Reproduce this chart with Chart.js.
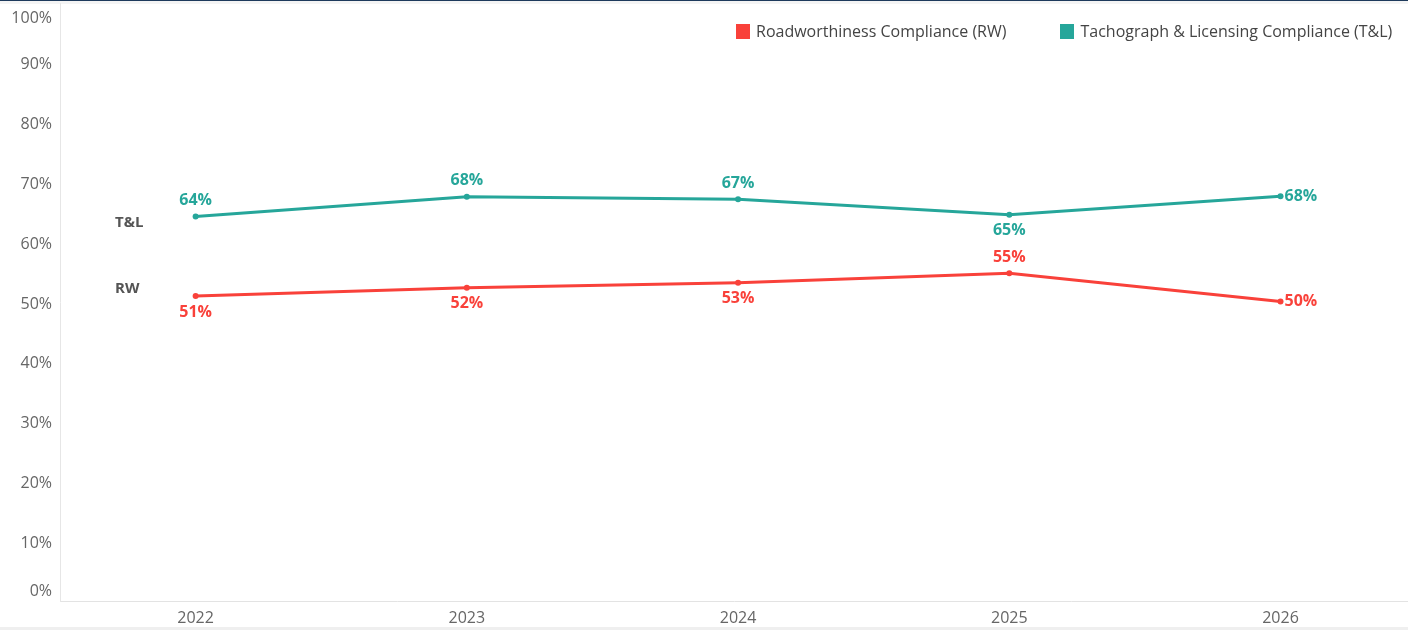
<!DOCTYPE html>
<html>
<head>
<meta charset="utf-8">
<script src="https://cdn.jsdelivr.net/npm/chart.js@4/dist/chart.umd.min.js"></script>
<style>
  html, body { margin: 0; padding: 0; background: #fff; width: 1408px; height: 630px; overflow: hidden; }
  #topline { position: absolute; left: 0; top: 0; width: 1408px; height: 1px; background: #1e3a5c; }
  #topband { position: absolute; left: 0; top: 1px; width: 1408px; height: 3px; background: #f4f4f4; }
  #bottomband { position: absolute; left: 0; top: 627px; width: 1408px; height: 3px; background: #efefef; }
  #wrap { position: absolute; left: 0; top: 3px; width: 1408px; height: 624px; }
  #legend { position: absolute; top: 20px; left: 736px; font-family: "Open Sans", sans-serif; font-size: 16px; color: #444; display: flex; align-items: center; }
  .item { display: flex; align-items: center; }
  .sw { width: 14px; height: 15px; margin-right: 6px; }
</style>
</head>
<body>
<div id="topline"></div>
<div id="topband"></div>
<div id="bottomband"></div>
<div id="wrap"><canvas id="c"></canvas></div>
<div id="legend">
  <div class="item"><div class="sw" style="background:#f9413a"></div><span>Roadworthiness Compliance (RW)</span></div>
  <div class="item" style="margin-left:54px"><div class="sw" style="background:#26a69a"></div><span>Tachograph &amp; Licensing Compliance (T&amp;L)</span></div>
</div>
<script>
// ---- data ----
const years = [2022, 2023, 2024, 2025, 2026];
const rwValues = [51.0, 52.4, 53.2, 54.8, 50.1];
const tlValues = [64.3, 67.6, 67.2, 64.6, 67.7];
const yTicks = [0, 10, 20, 30, 40, 50, 60, 70, 80, 90, 100];
const seriesNames = ['Roadworthiness Compliance (RW)', 'Tachograph & Licensing Compliance (T&L)'];
const shortNames = ['RW', 'T&L'];

// ---- styles ----
const RED = '#f9413a';
const TEAL = '#26a69a';
const rwLabelPos = ['below', 'below', 'below', 'above', 'right'];
const tlLabelPos = ['above', 'above', 'above', 'below', 'right'];
const FONT = '"Open Sans", sans-serif';

const dataLabels = {
  id: 'dataLabels',
  afterDatasetsDraw(chart) {
    const ctx = chart.ctx;
    ctx.save();
    chart.data.datasets.forEach((ds, di) => {
      const meta = chart.getDatasetMeta(di);
      const pos = ds.labelPos;
      ctx.font = 'bold 16px ' + FONT;
      meta.data.forEach((pt, i) => {
        const txt = Math.round(ds.data[i].y) + '%';
        ctx.fillStyle = ds.borderColor;
        ctx.textBaseline = 'middle';
        if (pos[i] === 'above') { ctx.textAlign = 'center'; ctx.fillText(txt, pt.x, pt.y - 16); }
        else if (pos[i] === 'below') { ctx.textAlign = 'center'; ctx.fillText(txt, pt.x, pt.y + 16); }
        else { ctx.textAlign = 'left'; ctx.fillText(txt, pt.x + 4, pt.y); }
      });
      // series short name on the left
      const first = meta.data[0];
      ctx.fillStyle = '#555';
      ctx.font = 'bold 15px ' + FONT;
      ctx.textAlign = 'left';
      ctx.textBaseline = 'middle';
      const dy = di === 0 ? -7 : 6;
      ctx.fillText(ds.shortName, chart.scales.x.left + 55, first.y + dy);
    });
    ctx.restore();
  }
};

const yLabels = {
  id: 'yLabels',
  afterDraw(chart) {
    const y = chart.scales.y;
    const ctx = chart.ctx;
    ctx.save();
    ctx.font = '16px ' + FONT;
    ctx.fillStyle = '#666';
    ctx.textAlign = 'right';
    ctx.textBaseline = 'middle';
    yTicks.forEach(v => {
      let py = y.getPixelForValue(v) + 2;
      py = Math.min(Math.max(py, y.top + 15), y.bottom - 10);
      ctx.fillText(v + '%', 52, py);
    });
    ctx.restore();
  }
};

new Chart(document.getElementById('c'), {
  type: 'line',
  data: {
    datasets: [
      { label: seriesNames[0], shortName: shortNames[0], data: years.map((yr, i) => ({ x: yr, y: rwValues[i] })),
        borderColor: RED, backgroundColor: RED, borderWidth: 3, pointRadius: 3, pointBorderWidth: 0, labelPos: rwLabelPos, tension: 0 },
      { label: seriesNames[1], shortName: shortNames[1], data: years.map((yr, i) => ({ x: yr, y: tlValues[i] })),
        borderColor: TEAL, backgroundColor: TEAL, borderWidth: 3, pointRadius: 3, pointBorderWidth: 0, labelPos: tlLabelPos, tension: 0 }
    ]
  },
  options: {
    responsive: true,
    maintainAspectRatio: false,
    animation: false,
    layout: { autoPadding: false, padding: 0 },
    plugins: { legend: { display: false }, tooltip: { enabled: false } },
    scales: {
      x: {
        type: 'linear',
        min: 2021.5,
        max: 2026.47,
        afterBuildTicks(scale) { scale.ticks = years.map(v => ({ value: v })); },
        afterFit(scale) { scale.height = 26; },
        grid: { display: false, drawTicks: false },
        border: { display: true, color: '#e3e3e3', width: 1 },
        ticks: { color: '#666', font: { family: FONT, size: 16 }, padding: 8, maxRotation: 0, autoSkip: false,
                 callback: v => String(v) }
      },
      y: {
        min: 0,
        max: 100,
        afterBuildTicks(scale) { scale.ticks = yTicks.map(v => ({ value: v })); },
        afterFit(scale) { scale.width = 60; },
        grid: { display: false, drawTicks: false },
        border: { display: true, color: '#e6e6e6', width: 1 },
        ticks: { display: false }
      }
    }
  },
  plugins: [dataLabels, yLabels]
});
</script>
</body>
</html>
